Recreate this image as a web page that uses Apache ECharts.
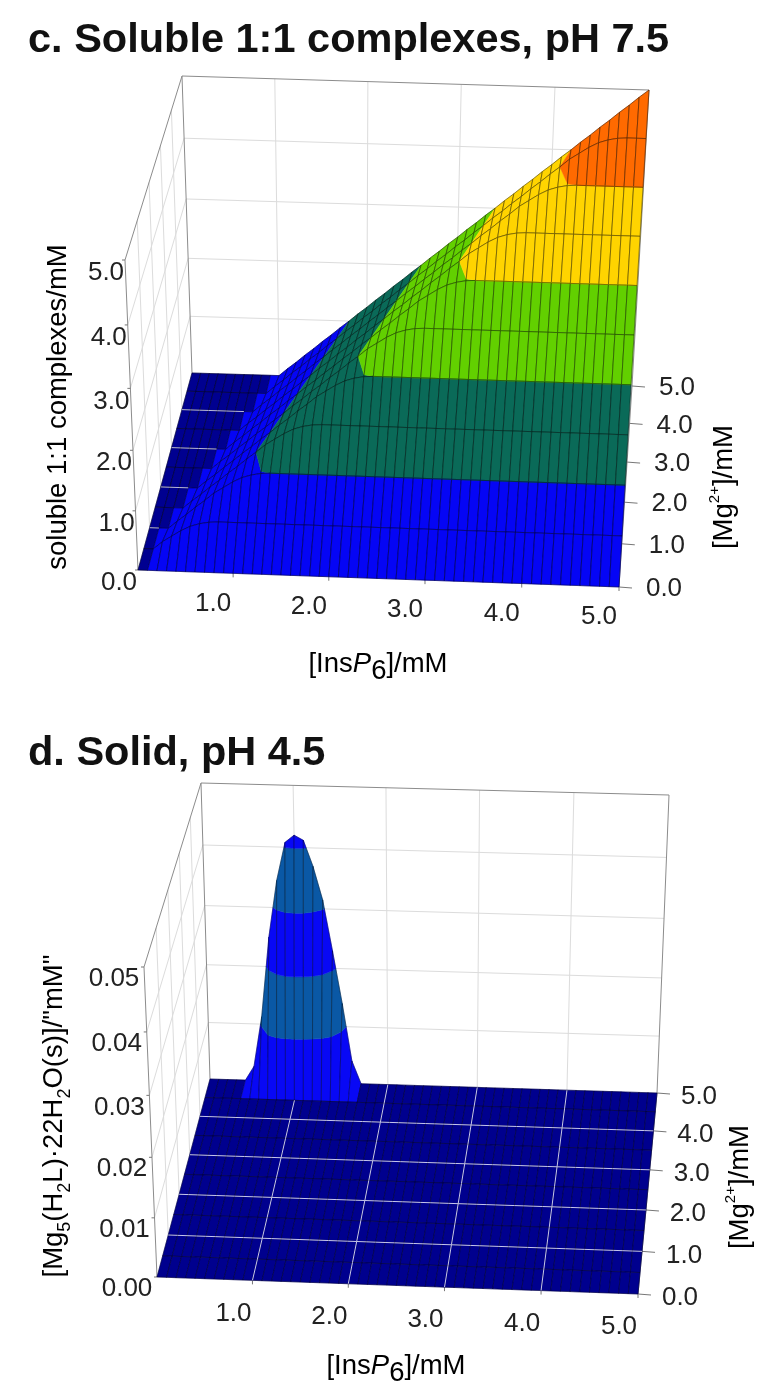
<!DOCTYPE html>
<html>
<head>
<meta charset="utf-8">
<style>html,body{margin:0;padding:0;background:#fff}#chart{width:779px;height:1398px}</style>
<script src="https://cdn.jsdelivr.net/npm/echarts@6/dist/echarts.min.js"></script>
</head>
<body>
<div id="chart"></div>
<script>
'use strict';

var insGrid = [0,0.1,0.2,0.3,0.4,0.5,0.6,0.7,0.8,0.9,1,1.1,1.2,1.3,1.4,1.5,1.6,1.7,1.8,1.9,2,2.1,2.2,2.3,2.4,2.5,2.6,2.7,2.8,2.9,3,3.1,3.2,3.3,3.4,3.5,3.6,3.7,3.8,3.9,4,4.1,4.2,4.3,4.4,4.5,4.6,4.7,4.8,4.9,5];
var mgGrid = [0,0.5,1,1.5,2,2.5,3,3.5,4,4.5,5];

var insTicks = [1,2,3,4,5];
var mgTicks = [0,1,2,3,4,5];
var solubleTicks = [0,1,2,3,4,5];
var solidTicks = [0,0.01,0.02,0.03,0.04,0.05];

// one row per Mg value, one column per InsP6 value
var flatRow = [0,0,0,0,0,0,0,0,0,0,0,0,0,0,0,0,0,0,0,0,0,0,0,0,0,0,0,0,0,0,0,0,0,0,0,0,0,0,0,0,0,0,0,0,0,0,0,0,0,0,0];
var solubleRows = [
    flatRow,
    [0,0,0.13,0.23,0.33,0.41,0.46,0.49,0.5,0.5,0.5,0.5,0.5,0.5,0.5,0.5,0.5,0.5,0.5,0.5,0.5,0.5,0.5,0.5,0.5,0.5,0.5,0.5,0.5,0.5,0.5,0.5,0.5,0.5,0.5,0.5,0.5,0.5,0.5,0.5,0.5,0.5,0.5,0.5,0.5,0.5,0.5,0.5,0.5,0.5,0.5],
    [0,0,0,0.13,0.25,0.38,0.5,0.63,0.73,0.83,0.91,0.96,0.99,1,1,1,1,1,1,1,1,1,1,1,1,1,1,1,1,1,1,1,1,1,1,1,1,1,1,1,1,1,1,1,1,1,1,1,1,1,1],
    [0,0,0,0,0.13,0.25,0.38,0.5,0.63,0.75,0.88,1,1.13,1.23,1.33,1.41,1.46,1.49,1.5,1.5,1.5,1.5,1.5,1.5,1.5,1.5,1.5,1.5,1.5,1.5,1.5,1.5,1.5,1.5,1.5,1.5,1.5,1.5,1.5,1.5,1.5,1.5,1.5,1.5,1.5,1.5,1.5,1.5,1.5,1.5,1.5],
    [0,0,0,0,0,0.13,0.25,0.38,0.5,0.63,0.75,0.88,1,1.13,1.25,1.38,1.5,1.63,1.73,1.83,1.91,1.96,1.99,2,2,2,2,2,2,2,2,2,2,2,2,2,2,2,2,2,2,2,2,2,2,2,2,2,2,2,2],
    [0,0,0,0,0,0,0.13,0.25,0.38,0.5,0.63,0.75,0.88,1,1.13,1.25,1.38,1.5,1.63,1.75,1.88,2,2.13,2.23,2.33,2.41,2.46,2.49,2.5,2.5,2.5,2.5,2.5,2.5,2.5,2.5,2.5,2.5,2.5,2.5,2.5,2.5,2.5,2.5,2.5,2.5,2.5,2.5,2.5,2.5,2.5],
    [0,0,0,0,0,0,0,0.13,0.25,0.38,0.5,0.63,0.75,0.88,1,1.13,1.25,1.38,1.5,1.63,1.75,1.88,2,2.13,2.25,2.38,2.5,2.63,2.73,2.83,2.91,2.96,2.99,3,3,3,3,3,3,3,3,3,3,3,3,3,3,3,3,3,3],
    [0,0,0,0,0,0,0,0,0.13,0.25,0.38,0.5,0.63,0.75,0.88,1,1.13,1.25,1.38,1.5,1.63,1.75,1.88,2,2.13,2.25,2.38,2.5,2.63,2.75,2.88,3,3.13,3.23,3.33,3.41,3.46,3.49,3.5,3.5,3.5,3.5,3.5,3.5,3.5,3.5,3.5,3.5,3.5,3.5,3.5],
    [0,0,0,0,0,0,0,0,0,0.13,0.25,0.38,0.5,0.63,0.75,0.88,1,1.13,1.25,1.38,1.5,1.63,1.75,1.88,2,2.13,2.25,2.38,2.5,2.63,2.75,2.88,3,3.13,3.25,3.38,3.5,3.63,3.73,3.83,3.91,3.96,3.99,4,4,4,4,4,4,4,4],
    [0,0,0,0,0,0,0,0,0,0,0.13,0.25,0.38,0.5,0.63,0.75,0.88,1,1.13,1.25,1.38,1.5,1.63,1.75,1.88,2,2.13,2.25,2.38,2.5,2.63,2.75,2.88,3,3.13,3.25,3.38,3.5,3.63,3.75,3.88,4,4.13,4.23,4.33,4.41,4.46,4.49,4.5,4.5,4.5],
    [0,0,0,0,0,0,0,0,0,0,0,0.13,0.25,0.38,0.5,0.63,0.75,0.88,1,1.13,1.25,1.38,1.5,1.63,1.75,1.88,2,2.13,2.25,2.38,2.5,2.63,2.75,2.88,3,3.13,3.25,3.38,3.5,3.63,3.75,3.88,4,4.13,4.25,4.38,4.5,4.63,4.75,4.88,5]
];
var solidPeakRow = [0,0,0,0,0,0.0025,0.0113,0.025,0.0345,0.0408,0.042,0.0412,0.037,0.0315,0.023,0.014,0.004,0,0,0,0,0,0,0,0,0,0,0,0,0,0,0,0,0,0,0,0,0,0,0,0,0,0,0,0,0,0,0,0,0,0];
var solidRows = [flatRow,flatRow,flatRow,flatRow,flatRow,flatRow,flatRow,flatRow,flatRow,flatRow,solidPeakRow];

var solubleLevels = [0,1,2,3,4];
var solidLevels = [0,0.01,0.02,0.03,0.04];

var FONT = '"Liberation Sans", Arial, sans-serif';
var INK = '#222';

var panels = [{
    rows: solubleRows,
    zMax: 5,
    zTicks: solubleTicks,
    zDigits: 1,
    levels: solubleLevels,
    colors: ['#0505f5', '#0a6a58', '#62d000', '#ffd400', '#ff6a00'],
    floorColor: '#000090',
    edge: 'rgba(0,0,0,0.55)',
    gridOnFloor: '#b9b9dc',
    floor: [[138,570],[619,587],[632,386],[192,373]],
    top: [[125,260],[636,277],[649,90],[182,76]],
    insOffset: [-20,30],
    mgOffset: [45,2],
    zOffset: [-19,13]
}, {
    rows: solidRows,
    zMax: 0.05,
    zTicks: solidTicks,
    zDigits: 2,
    levels: solidLevels,
    colors: ['#0808f5', '#0a58a5', '#0808f5', '#0a58a5', '#0808f5'],
    floorColor: '#00008e',
    edge: 'rgba(0,0,0,0.45)',
    gridOnFloor: '#c6c6ee',
    floor: [[157,1277],[638,1294],[657,1093],[210,1079]],
    top: [[144,967],[650,984],[669,795],[201,783]],
    insOffset: [-19,33],
    mgOffset: [42,4],
    zOffset: [-30,12]
}];

// unit square -> quad
function quadMap(p) {
    var dx1 = p[1][0] - p[2][0], dx2 = p[3][0] - p[2][0], sx = p[0][0] - p[1][0] + p[2][0] - p[3][0];
    var dy1 = p[1][1] - p[2][1], dy2 = p[3][1] - p[2][1], sy = p[0][1] - p[1][1] + p[2][1] - p[3][1];
    var den = dx1 * dy2 - dx2 * dy1;
    var g = (sx * dy2 - dx2 * sy) / den;
    var h = (dx1 * sy - sx * dy1) / den;
    var a = p[1][0] - p[0][0] + g * p[1][0];
    var b = p[3][0] - p[0][0] + h * p[3][0];
    var d = p[1][1] - p[0][1] + g * p[1][1];
    var e = p[3][1] - p[0][1] + h * p[3][1];
    return function (u, v) {
        var w = g * u + h * v + 1;
        return [(a * u + b * v + p[0][0]) / w, (d * u + e * v + p[0][1]) / w];
    };
}

panels.forEach(function (panel) {
    var floorMap = quadMap(panel.floor);
    var topMap = quadMap(panel.top);
    panel.project = function (api, pt) {
        var f = floorMap(pt[0] / 5, pt[1] / 5);
        var t = topMap(pt[0] / 5, pt[1] / 5);
        var r = pt[2] / panel.zMax;
        r = r / (1.06 - 0.06 * r);
        return api.coord([f[0] + (t[0] - f[0]) * r, f[1] + (t[1] - f[1]) * r]);
    };
});

function clipAt(poly, level, keepAbove) {
    var out = [];
    for (var i = 0; i < poly.length; i++) {
        var p = poly[i], q = poly[(i + 1) % poly.length];
        var pIn = keepAbove ? p[2] >= level : p[2] <= level;
        var qIn = keepAbove ? q[2] >= level : q[2] <= level;
        if (pIn) out.push(p);
        if (pIn !== qIn) {
            var k = (level - p[2]) / (q[2] - p[2]);
            out.push([p[0] + (q[0] - p[0]) * k, p[1] + (q[1] - p[1]) * k, level]);
        }
    }
    return out;
}

function cellList() {
    var cells = [];
    for (var j = mgGrid.length - 2; j >= 0; j--) {
        for (var i = 0; i < insGrid.length - 1; i++) {
            cells.push([i, j]);
        }
    }
    return cells;
}

function surfaceSeries(panel) {
    var cells = cellList();
    return {
        type: 'custom',
        coordinateSystem: 'cartesian2d',
        silent: true,
        z: 3,
        data: cells,
        renderItem: function (params, api) {
            var c = cells[params.dataIndex];
            var i = c[0], j = c[1];
            var rows = panel.rows;
            var quad = [
                [insGrid[i], mgGrid[j], rows[j][i]],
                [insGrid[i + 1], mgGrid[j], rows[j][i + 1]],
                [insGrid[i + 1], mgGrid[j + 1], rows[j + 1][i + 1]],
                [insGrid[i], mgGrid[j + 1], rows[j + 1][i]]
            ];
            var toPixels = function (poly) {
                return poly.map(function (pt) { return panel.project(api, pt); });
            };
            var children = [];
            var top = Math.max(quad[0][2], quad[1][2], quad[2][2], quad[3][2]);
            if (top === 0) {
                children.push({
                    type: 'polygon',
                    shape: { points: toPixels(quad) },
                    style: { fill: panel.floorColor, stroke: panel.floorColor, lineWidth: 0.5 }
                });
            } else {
                panel.levels.forEach(function (lo, b) {
                    var piece = clipAt(quad, lo, true);
                    if (b < panel.levels.length - 1) piece = clipAt(piece, panel.levels[b + 1], false);
                    if (piece.length < 3) return;
                    children.push({
                        type: 'polygon',
                        shape: { points: toPixels(piece) },
                        style: { fill: panel.colors[b], stroke: panel.colors[b], lineWidth: 0.5 }
                    });
                });
            }
            children.push({
                type: 'polygon',
                shape: { points: toPixels(quad) },
                style: { fill: null, stroke: panel.edge, lineWidth: 0.8 }
            });
            return { type: 'group', children: children };
        }
    };
}

function segmentSeries(panel, segments, zLevel) {
    return {
        type: 'custom',
        coordinateSystem: 'cartesian2d',
        silent: true,
        z: zLevel,
        data: segments.map(function (s, i) { return [i, 0]; }),
        renderItem: function (params, api) {
            var s = segments[params.dataIndex];
            var a = panel.project(api, s.from);
            var b = s.to ? panel.project(api, s.to) : [a[0] + s.off[0], a[1] + s.off[1]];
            return {
                type: 'line',
                shape: { x1: a[0], y1: a[1], x2: b[0], y2: b[1] },
                style: { stroke: s.color, lineWidth: s.width }
            };
        }
    };
}

function wallSegments(panel) {
    var z = panel.zMax, out = [];
    var light = '#dcdcdc', frame = '#8c8c8c', tick = '#777';
    var add = function (from, to, color, width) { out.push({ from: from, to: to, color: color, width: width }); };
    panel.zTicks.slice(1, -1).forEach(function (v) {
        add([0, 0, v], [0, 5, v], light, 1);
        add([0, 5, v], [5, 5, v], light, 1);
    });
    mgTicks.slice(1, -1).forEach(function (v) { add([0, v, 0], [0, v, z], light, 1); });
    insTicks.slice(0, -1).forEach(function (v) { add([v, 5, 0], [v, 5, z], light, 1); });
    add([0, 0, 0], [0, 0, z], frame, 1);
    add([0, 5, 0], [0, 5, z], frame, 1);
    add([5, 5, 0], [5, 5, z], frame, 1);
    add([0, 0, z], [0, 5, z], frame, 1);
    add([0, 5, z], [5, 5, z], frame, 1);
    add([5, 0, 0], [5, 5, 0], frame, 1);
    insTicks.forEach(function (v) { out.push({ from: [v, 0, 0], off: [0, 4], color: tick, width: 1 }); });
    mgTicks.forEach(function (v) { out.push({ from: [5, v, 0], off: [13, 1], color: tick, width: 1 }); });
    panel.zTicks.forEach(function (v) { out.push({ from: [0, 0, v], off: [-3, 0], color: tick, width: 1 }); });
    return out;
}

// grid lines only show where the cells on both sides lie flat on the floor
function floorSegments(panel) {
    var out = [];
    var rows = panel.rows;
    var flat = function (i, j) {
        if (i < 0 || j < 0 || i >= insGrid.length - 1 || j >= mgGrid.length - 1) return true;
        return rows[j][i] === 0 && rows[j][i + 1] === 0 && rows[j + 1][i] === 0 && rows[j + 1][i + 1] === 0;
    };
    insTicks.forEach(function (v) {
        var i = insGrid.indexOf(v);
        for (var j = 0; j < mgGrid.length - 1; j++) {
            if (i < insGrid.length - 1 && flat(i, j) && flat(i - 1, j)) {
                out.push({ from: [v, mgGrid[j], 0], to: [v, mgGrid[j + 1], 0], color: panel.gridOnFloor, width: 1 });
            }
        }
    });
    mgTicks.slice(1, -1).forEach(function (v) {
        var j = mgGrid.indexOf(v);
        for (var i = 0; i < insGrid.length - 1; i++) {
            if (flat(i, j) && flat(i, j - 1)) {
                out.push({ from: [insGrid[i], v, 0], to: [insGrid[i + 1], v, 0], color: panel.gridOnFloor, width: 1 });
            }
        }
    });
    return out;
}

function tickLabelSeries(panel) {
    var labels = [];
    insTicks.forEach(function (v) { labels.push({ text: v.toFixed(1), at: [v, 0, 0], off: panel.insOffset }); });
    mgTicks.forEach(function (v) { labels.push({ text: v.toFixed(1), at: [5, v, 0], off: panel.mgOffset }); });
    panel.zTicks.forEach(function (v) { labels.push({ text: v.toFixed(panel.zDigits), at: [0, 0, v], off: panel.zOffset }); });
    return {
        type: 'custom',
        coordinateSystem: 'cartesian2d',
        silent: true,
        z: 6,
        data: labels.map(function (l, i) { return [i, 0]; }),
        renderItem: function (params, api) {
            var l = labels[params.dataIndex];
            var p = panel.project(api, l.at);
            return {
                type: 'text',
                x: p[0] + l.off[0],
                y: p[1] + l.off[1],
                style: { text: l.text, fill: INK, font: '26px ' + FONT, align: 'center', verticalAlign: 'middle' }
            };
        }
    };
}

var series = [];
panels.forEach(function (panel) {
    series.push(segmentSeries(panel, wallSegments(panel), 2));
    series.push(surfaceSeries(panel));
    series.push(segmentSeries(panel, floorSegments(panel), 4));
    series.push(tickLabelSeries(panel));
});

var nameRich = {
    n: { fontFamily: FONT, fontSize: 27.5, color: INK, verticalAlign: 'middle' },
    i: { fontFamily: FONT, fontSize: 27.5, color: INK, verticalAlign: 'middle', fontStyle: 'italic' },
    big: { fontFamily: FONT, fontSize: 27.5, color: INK, lineHeight: 42, verticalAlign: 'bottom' },
    sub: { fontFamily: FONT, fontSize: 18, color: INK, lineHeight: 40, verticalAlign: 'bottom' },
    sup: { fontFamily: FONT, fontSize: 15, color: INK, lineHeight: 34, verticalAlign: 'top' }
};

function axisName(text, x, y, rotation) {
    return {
        type: 'text',
        x: x,
        y: y,
        rotation: rotation,
        silent: true,
        z: 10,
        style: { text: text, rich: nameRich, align: 'center', verticalAlign: 'middle' }
    };
}

var chart = echarts.init(document.getElementById('chart'), null, { renderer: 'canvas' });
chart.setOption({
    animation: false,
    backgroundColor: '#fff',
    title: [
        { text: 'c. Soluble 1:1 complexes, pH 7.5', left: 23, top: 15, textStyle: { fontFamily: FONT, fontSize: 41.5, fontWeight: 'bold', color: '#111' } },
        { text: 'd. Solid, pH 4.5', left: 23, top: 728, textStyle: { fontFamily: FONT, fontSize: 41.5, fontWeight: 'bold', color: '#111' } }
    ],
    grid: { left: 0, right: 0, top: 0, bottom: 0 },
    xAxis: { type: 'value', min: 0, max: 779, show: false },
    yAxis: { type: 'value', min: 0, max: 1398, inverse: true, show: false },
    graphic: [
        axisName('{n|soluble 1:1 complexes/mM}', 58, 407, Math.PI / 2),
        axisName('{n|[Ins}{i|P}{big|6}{n|]/mM}', 378, 664, 0),
        axisName('{n|[Mg}{sup|2+}{n|]/mM}', 724, 487, Math.PI / 2),
        axisName('{n|[Mg}{sub|5}{n|(H}{sub|2}{n|L)·22H}{sub|2}{n|O(s)]/"mM"}', 54, 1116, Math.PI / 2),
        axisName('{n|[Ins}{i|P}{big|6}{n|]/mM}', 396, 1366, 0),
        axisName('{n|[Mg}{sup|2+}{n|]/mM}', 740, 1187, Math.PI / 2)
    ],
    series: series
});
</script>
</body>
</html>
